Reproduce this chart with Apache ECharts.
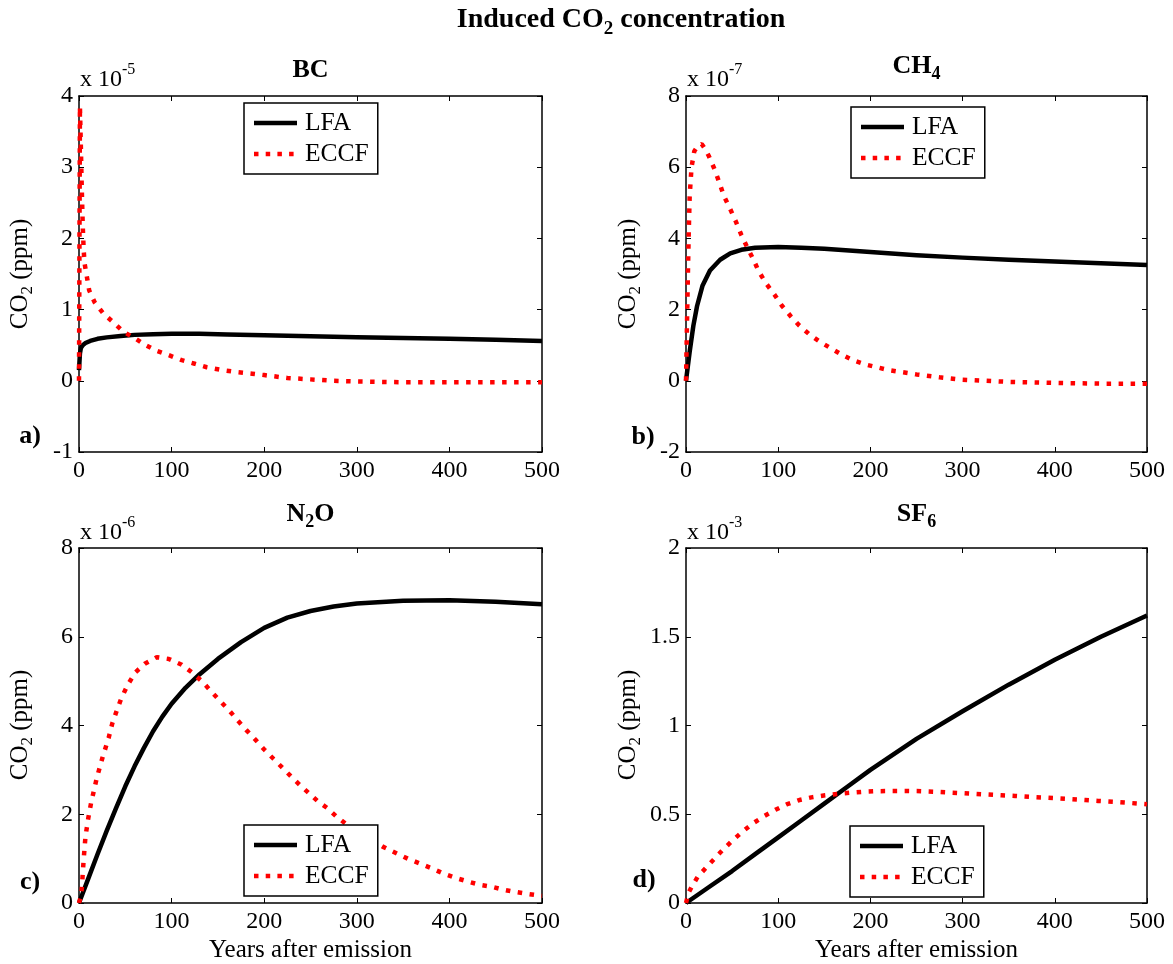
<!DOCTYPE html>
<html>
<head>
<meta charset="utf-8">
<script src="https://cdn.jsdelivr.net/npm/echarts@6/dist/echarts.min.js"></script>
<style>
html,body{margin:0;padding:0;background:#fff;}
#chart{width:1173px;height:964px;}
</style>
</head>
<body>
<div id="chart"></div>
<script>
// ---------- data (values in units of the axis multiplier shown on each panel) ----------
const xTickValues = [0, 100, 200, 300, 400, 500];

// a) BC  (x 10^-5 ppm)
const bcLfaYears   = [0, 1, 2, 4, 7, 12, 20, 30, 45, 60, 80, 100, 130, 160, 200, 250, 300, 350, 400, 450, 500];
const bcLfaValues  = [0.15, 0.38, 0.46, 0.5, 0.53, 0.56, 0.59, 0.61, 0.63, 0.645, 0.655, 0.66, 0.66, 0.65, 0.64, 0.625, 0.61, 0.6, 0.59, 0.575, 0.56];
const bcEccfYears  = [0, 1, 2, 3, 4, 5, 6, 8, 11, 17, 26, 38, 48, 60, 72, 84, 97, 111, 125, 138, 155, 172, 187, 200, 225, 250, 275, 300, 350, 400, 450, 500];
const bcEccfValues = [0, 3.85, 3.3, 2.7, 2.2, 1.85, 1.65, 1.5, 1.27, 1.1, 0.95, 0.81, 0.69, 0.6, 0.5, 0.42, 0.36, 0.29, 0.24, 0.19, 0.15, 0.12, 0.1, 0.08, 0.04, 0.02, 0.0, -0.01, -0.02, -0.02, -0.02, -0.02];

// b) CH4 (x 10^-7 ppm)
const ch4LfaYears   = [0, 4, 8, 12, 18, 26, 37, 48, 60, 75, 100, 125, 150, 200, 250, 300, 350, 400, 450, 500];
const ch4LfaValues  = [0, 0.82, 1.55, 2.1, 2.68, 3.1, 3.4, 3.58, 3.68, 3.74, 3.76, 3.74, 3.71, 3.62, 3.53, 3.46, 3.4, 3.35, 3.3, 3.25];
const ch4EccfYears  = [0, 1, 2, 3, 4, 6, 9, 13, 17, 21, 25, 31, 36, 41, 48, 54, 60, 66, 73, 79, 87, 96, 104, 114, 123, 134, 145, 158, 170, 182, 196, 220, 250, 275, 300, 350, 400, 450, 500];
const ch4EccfValues = [0, 1.5, 2.9, 4.2, 5.2, 6.0, 6.45, 6.6, 6.65, 6.5, 6.3, 5.94, 5.58, 5.2, 4.82, 4.48, 4.1, 3.77, 3.41, 3.07, 2.73, 2.42, 2.11, 1.8, 1.55, 1.3, 1.1, 0.9, 0.72, 0.57, 0.45, 0.3, 0.18, 0.1, 0.03, -0.03, -0.06, -0.08, -0.08];

// c) N2O (x 10^-6 ppm)
const n2oLfaYears   = [0, 10, 20, 30, 40, 50, 60, 70, 80, 90, 100, 115, 130, 150, 175, 200, 225, 250, 275, 300, 350, 400, 450, 500];
const n2oLfaValues  = [0, 0.55, 1.1, 1.63, 2.14, 2.63, 3.08, 3.49, 3.87, 4.2, 4.49, 4.85, 5.15, 5.5, 5.88, 6.2, 6.43, 6.58, 6.68, 6.75, 6.81, 6.82, 6.79, 6.73];
const n2oEccfYears  = [0, 2, 3, 5, 7, 10, 13, 19, 25, 32, 36, 41, 46, 53, 61, 71, 84, 97, 111, 123, 134, 143, 153, 163, 172, 181, 191, 200, 210, 221, 230, 239, 249, 258, 268, 278, 292, 310, 328, 355, 380, 394, 406, 419, 433, 445, 456, 468, 483, 500];
const n2oEccfValues = [0, 0.15, 0.32, 0.97, 1.5, 1.91, 2.25, 2.8, 3.25, 3.72, 4.05, 4.35, 4.63, 4.93, 5.2, 5.39, 5.54, 5.5, 5.37, 5.18, 4.97, 4.76, 4.54, 4.32, 4.1, 3.89, 3.67, 3.46, 3.25, 3.02, 2.83, 2.65, 2.46, 2.29, 2.14, 1.95, 1.72, 1.5, 1.27, 1.0, 0.79, 0.66, 0.57, 0.49, 0.41, 0.37, 0.31, 0.26, 0.21, 0.16];

// d) SF6 (x 10^-3 ppm)
const sf6LfaYears   = [0, 25, 50, 75, 100, 125, 150, 175, 200, 250, 300, 350, 400, 450, 500];
const sf6LfaValues  = [0, 0.09, 0.18, 0.275, 0.37, 0.465, 0.56, 0.655, 0.75, 0.925, 1.08, 1.23, 1.37, 1.5, 1.62];
const sf6EccfYears  = [0, 3, 6, 13, 22, 31, 40, 51, 62, 73, 85, 97, 109, 123, 136, 151, 165, 180, 194, 208, 224, 239, 255, 269, 284, 299, 313, 327, 342, 357, 372, 388, 402, 418, 433, 447, 464, 478, 491, 500];
const sf6EccfValues = [0, 0.06, 0.09, 0.15, 0.2, 0.25, 0.3, 0.355, 0.405, 0.45, 0.49, 0.525, 0.555, 0.58, 0.595, 0.607, 0.615, 0.622, 0.627, 0.63, 0.631, 0.631, 0.63, 0.627, 0.623, 0.619, 0.615, 0.611, 0.607, 0.603, 0.598, 0.594, 0.59, 0.585, 0.58, 0.575, 0.57, 0.565, 0.56, 0.557];

const yTicksBC  = [-1, 0, 1, 2, 3, 4];
const yTicksCH4 = [-2, 0, 2, 4, 6, 8];
const yTicksN2O = [0, 2, 4, 6, 8];
const yTicksSF6 = [0, 0.5, 1, 1.5, 2];

const seriesNames = ['LFA', 'ECCF'];

// ---------- styling / layout ----------
const FONT = '"Liberation Serif", "Times New Roman", Times, serif';
const TICK_FS = 24;
const pair = (xs, ys) => xs.map((x, i) => [x, ys[i]]);

const panels = [
  { grid: {left: 79, top: 96, width: 463, height: 356}, yTicks: yTicksBC,
    lfa: pair(bcLfaYears, bcLfaValues), eccf: pair(bcEccfYears, bcEccfValues),
    legend: {left: 244, top: 103} },
  { grid: {left: 686, top: 96, width: 461, height: 356}, yTicks: yTicksCH4,
    lfa: pair(ch4LfaYears, ch4LfaValues), eccf: pair(ch4EccfYears, ch4EccfValues),
    legend: {left: 851, top: 107} },
  { grid: {left: 79, top: 548, width: 463, height: 355}, yTicks: yTicksN2O,
    lfa: pair(n2oLfaYears, n2oLfaValues), eccf: pair(n2oEccfYears, n2oEccfValues),
    legend: {left: 244, top: 825} },
  { grid: {left: 686, top: 548, width: 461, height: 355}, yTicks: yTicksSF6,
    lfa: pair(sf6LfaYears, sf6LfaValues), eccf: pair(sf6EccfYears, sf6EccfValues),
    legend: {left: 850, top: 826} }
];

const axisLine = {show: true, onZero: false, lineStyle: {color: '#000', width: 1.5}};
const axisTick = {show: true, inside: true, length: 5, lineStyle: {color: '#000', width: 1}};
const labelStyle = {color: '#000', fontSize: TICK_FS, fontFamily: FONT};

// legend icons: solid bar and four square dots (43 x 4.5 box)
const ICON_LFA = 'path://M0,0H43V4.5H0Z';
const ICON_ECCF = 'path://M0,0h4.5v4.5h-4.5zM11.7,0h4.5v4.5h-4.5zM23.4,0h4.5v4.5h-4.5zM35.1,0h4.5v4.5h-4.5zM43,0v4.5z';

const grids = [], xAxes = [], yAxes = [], series = [], legends = [];
panels.forEach((p, i) => {
  grids.push(Object.assign({show: false, containLabel: false, outerBoundsMode: 'none'}, p.grid));
  const xMin = xTickValues[0], xMax = xTickValues[xTickValues.length - 1];
  const xInt = xTickValues[1] - xTickValues[0];
  const yMin = p.yTicks[0], yMax = p.yTicks[p.yTicks.length - 1];
  const yInt = p.yTicks[1] - p.yTicks[0];
  ['bottom', 'top'].forEach((pos, k) => {
    xAxes.push({type: 'value', gridIndex: i, position: pos, min: xMin, max: xMax, interval: xInt,
      axisLine, axisTick, splitLine: {show: false},
      axisLabel: Object.assign({show: k === 0, margin: 7}, labelStyle)});
  });
  ['left', 'right'].forEach((pos, k) => {
    yAxes.push({type: 'value', gridIndex: i, position: pos, min: yMin, max: yMax, interval: yInt,
      axisLine, axisTick, splitLine: {show: false},
      axisLabel: Object.assign({show: k === 0, margin: 6}, labelStyle)});
  });
  series.push({type: 'line', name: seriesNames[0], xAxisIndex: 2 * i, yAxisIndex: 2 * i,
    data: p.lfa, symbol: 'none', smooth: false, z: 2,
    lineStyle: {color: '#000', width: 4.5, join: 'round'}, itemStyle: {color: '#000'}});
  series.push({type: 'line', name: seriesNames[1], xAxisIndex: 2 * i, yAxisIndex: 2 * i,
    data: p.eccf, symbol: 'none', smooth: false, z: 3,
    lineStyle: {color: '#ff0000', width: 4.5, type: [4.5, 7.5], cap: 'butt'}, itemStyle: {color: '#ff0000'}});
  legends.push({show: true, orient: 'vertical', left: p.legend.left, top: p.legend.top,
    data: [{name: seriesNames[0], icon: ICON_LFA}, {name: seriesNames[1], icon: ICON_ECCF}],
    selectedMode: false, itemWidth: 43, itemHeight: 4.5, itemGap: 5, symbolKeepAspect: false,
    itemStyle: {borderWidth: 0},
    padding: [7, 9, 7, 10], borderColor: '#000', borderWidth: 1.5, borderRadius: 0,
    backgroundColor: '#fff', z: 10,
    textStyle: {color: '#000', fontSize: 25.5, fontFamily: FONT, lineHeight: 26, padding: [0, 0, 0, 3]}});
});

// ---------- texts ----------
const mk = (fs, weight, pad) => ({fontFamily: FONT, fontSize: fs, fontWeight: weight, fill: '#000', padding: pad});
const titleRich = {b: mk(26, 'bold'), s: mk(18, 'bold', [17, 0, 0, 0])};
const mainRich  = {b: mk(28, 'bold'), s: mk(19, 'bold', [18, 0, 0, 0])};
const regRich   = {r: mk(25, 'normal')};
const expRich   = {n: mk(24, 'normal'), p: mk(16, 'normal', [0, 0, 20, 0])};
const ylabRich  = {n: mk(25, 'normal'), s: mk(17, 'normal', [16, 0, 0, 0])};
const tagRich   = {b: mk(26, 'bold')};

function txt(x, y, text, rich, extra) {
  return Object.assign({type: 'text', x, y, z: 20, silent: true,
    style: {text, rich, align: 'center', verticalAlign: 'middle'}}, extra || {});
}
const graphics = [
  txt(621, 20, '{b|Induced CO}{s|2}{b| concentration}', mainRich),
  txt(310.5, 70, '{b|BC}', titleRich),
  txt(916.5, 66, '{b|CH}{s|4}', titleRich),
  txt(310.5, 514, '{b|N}{s|2}{b|O}', titleRich),
  txt(916.5, 514, '{b|SF}{s|6}', titleRich),
  txt(30, 436, '{b|a)}', tagRich),
  txt(643, 437, '{b|b)}', tagRich),
  txt(30, 882, '{b|c)}', tagRich),
  txt(644, 880, '{b|d)}', tagRich),
  txt(310.5, 950, '{r|Years after emission}', regRich),
  txt(916.5, 950, '{r|Years after emission}', regRich)
];
[['-5', 80, 80], ['-7', 687, 80], ['-6', 80, 533], ['-3', 687, 533]].forEach(([e, x, y]) => {
  const g = txt(x, y, '{n|x 10}{p|' + e + '}', expRich);
  g.style.align = 'left';
  graphics.push(g);
});
[[20, 274], [628, 274], [20, 725], [628, 725]].forEach(([x, y]) => {
  graphics.push(txt(x, y, '{n|CO}{s|2}{n| (ppm)}', ylabRich, {rotation: Math.PI / 2}));
});

const chart = echarts.init(document.getElementById('chart'), null, {renderer: 'canvas'});
chart.setOption({
  animation: false,
  backgroundColor: '#fff',
  textStyle: {fontFamily: FONT},
  grid: grids,
  xAxis: xAxes,
  yAxis: yAxes,
  legend: legends,
  series: series,
  graphic: graphics
});
</script>
</body>
</html>
